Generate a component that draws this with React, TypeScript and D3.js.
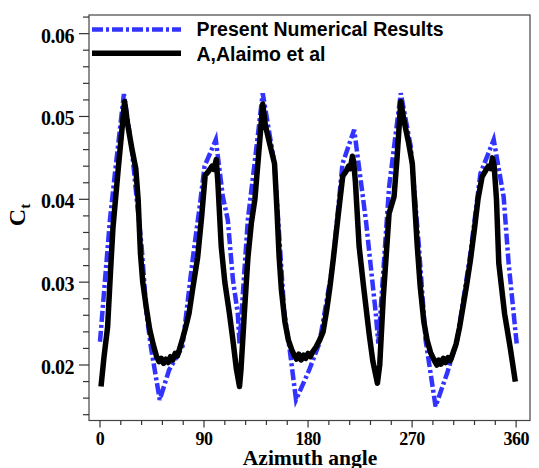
import React from "react";
import * as d3 from "d3";

const blueAngles = [0, 8.6, 12.9, 20.7, 27.3, 31.6, 36, 40.3, 44, 51.7, 59.8, 71.3, 77, 80.5, 86.2, 90.5, 100.2, 106.3, 110.6, 115, 119.2, 120.7, 127.9, 133.7, 140.8, 150.9, 159.5, 163.8, 169.6, 181, 189.7, 201.2, 209.8, 219.9, 230, 238.6, 240.8, 250.1, 260.2, 268.8, 275.9, 281.7, 290.3, 300.3, 309, 320.5, 329.1, 340.6, 349.2, 353.5, 359.3, 360.5];
const blueValues = [0.0228, 0.0375, 0.0431, 0.0527, 0.0464, 0.0403, 0.0343, 0.0262, 0.0222, 0.0158, 0.0194, 0.0222, 0.029, 0.0331, 0.0391, 0.044, 0.0472, 0.0403, 0.0375, 0.0303, 0.0262, 0.0226, 0.0375, 0.0443, 0.0528, 0.0443, 0.0262, 0.0222, 0.0158, 0.0194, 0.0226, 0.0319, 0.0443, 0.0484, 0.0375, 0.0262, 0.0226, 0.0415, 0.0528, 0.0464, 0.0343, 0.023, 0.015, 0.019, 0.023, 0.0335, 0.0431, 0.0472, 0.0403, 0.0323, 0.0242, 0.0226];

const blackAngles = [0.9, 3.5, 6.6, 9, 11.2, 16, 21.3, 24, 27.5, 31, 33, 35, 37, 40, 43, 46, 49, 51, 53, 55, 57, 59, 61, 63, 65, 67, 69, 71.5, 74, 77, 80, 84.5, 88, 91, 94, 97, 98.5, 100.6, 102, 104.9, 108, 112, 115, 118, 120.7, 122, 125, 128, 131, 134, 137, 140.8, 143, 147, 151, 153, 155, 157, 160, 163, 166, 168, 170, 172, 174, 176, 178, 180, 182, 184, 187, 190, 193, 196, 199, 202, 206, 210, 213, 215, 216.5, 218.4, 219.5, 221, 224.2, 228, 232.8, 236, 240, 242, 245, 248, 250.1, 254.4, 257, 260.2, 263, 267, 270.2, 272, 274.5, 277, 280.2, 283, 286, 289, 291.5, 293, 295, 297, 299, 301, 303, 305, 308, 311, 314, 317, 320.5, 324, 327, 330.5, 333, 336, 338, 339.5, 341, 343, 345, 350, 355, 359.3];
const blackValues = [0.0174, 0.021, 0.0246, 0.031, 0.0365, 0.044, 0.0518, 0.049, 0.0462, 0.0437, 0.04, 0.0335, 0.03, 0.027, 0.0243, 0.0225, 0.021, 0.0204, 0.0208, 0.0202, 0.0207, 0.0203, 0.021, 0.0206, 0.0214, 0.0211, 0.022, 0.0232, 0.0245, 0.0262, 0.029, 0.033, 0.038, 0.0429, 0.0434, 0.044, 0.0436, 0.0448, 0.042, 0.0343, 0.03, 0.0262, 0.023, 0.0195, 0.0174, 0.0195, 0.0265, 0.033, 0.0372, 0.04, 0.045, 0.0515, 0.049, 0.0466, 0.0443, 0.039, 0.033, 0.029, 0.0252, 0.023, 0.0218, 0.0212, 0.0207, 0.0213, 0.0206, 0.0212, 0.0208, 0.0214, 0.021, 0.0216, 0.0222, 0.023, 0.024, 0.0265, 0.0295, 0.033, 0.038, 0.0428, 0.0434, 0.044, 0.0437, 0.0452, 0.0445, 0.042, 0.0343, 0.0295, 0.0238, 0.0205, 0.0178, 0.02, 0.028, 0.034, 0.0383, 0.0403, 0.045, 0.0518, 0.0495, 0.0468, 0.0443, 0.04, 0.0343, 0.0295, 0.0252, 0.023, 0.0215, 0.0206, 0.02, 0.0206, 0.0201, 0.0208, 0.0203, 0.0209, 0.0205, 0.0213, 0.0225, 0.0245, 0.027, 0.0295, 0.0327, 0.0365, 0.04, 0.0427, 0.0433, 0.044, 0.0437, 0.045, 0.044, 0.04, 0.0323, 0.0262, 0.022, 0.018];

const xMajorTicks = [0, 90, 180, 270, 360];
const xTickLabels = ["0", "90", "180", "270", "360"];
const yMajorTicks = [0.02, 0.03, 0.04, 0.05, 0.06];
const yTickLabels = ["0.02", "0.03", "0.04", "0.05", "0.06"];
const legendLabels = ["Present Numerical Results", "A,Alaimo et al"];

const W = 539;
const H = 468;
const L = 89, R = 530, T = 15, B = 420.5;

export default function App() {
  const x = d3.scaleLinear().domain([-9.5, 372]).range([L, R]);
  const y = d3.scaleLinear().domain([0.0133, 0.06225]).range([B, T]);

  const blue = blueAngles.map((a, i) => [a, blueValues[i]] as [number, number]);
  const black = blackAngles.map((a, i) => [a, blackValues[i]] as [number, number]);
  const line = d3.line<[number, number]>().x((d) => x(d[0])).y((d) => y(d[1]));

  const xMinor = d3.range(0, 361, 18).filter((v) => !xMajorTicks.includes(v));
  const yMinor = d3.range(14, 63, 2).map((v) => v / 1000).filter((v) => !yMajorTicks.some((m) => Math.abs(m - v) < 1e-9));

  const serif = "'Liberation Serif', 'Times New Roman', serif";
  const sans = "'Liberation Sans', Arial, sans-serif";

  return (
    <svg width={W} height={H} style={{ position: "absolute", left: 0, top: 0, background: "#fff" }}>
      <rect x={0} y={0} width={W} height={H} fill="#fff" />
      {/* data */}
      <path d={line(blue) || ""} fill="none" stroke="#3333ff" strokeWidth={4.5} strokeDasharray="11,3,3,3" />
      <path d={line(black) || ""} fill="none" stroke="#000" strokeWidth={5.5} strokeLinejoin="round" />
      {/* frame */}
      <rect x={L} y={T} width={R - L} height={B - T} fill="none" stroke="#444" strokeWidth={1.2} />
      {/* x ticks */}
      {xMajorTicks.map((t, i) => (
        <g key={"xm" + t}>
          <line x1={x(t)} x2={x(t)} y1={B} y2={B + 7} stroke="#333" strokeWidth={1.2} />
          <text x={x(t)} y={444.5} textAnchor="middle" fontFamily={serif} fontWeight="bold" fontSize={18} letterSpacing={-0.5}>
            {xTickLabels[i]}
          </text>
        </g>
      ))}
      {xMinor.map((t) => (
        <line key={"xn" + t} x1={x(t)} x2={x(t)} y1={B} y2={B + 4.5} stroke="#333" strokeWidth={1.2} />
      ))}
      {/* y ticks */}
      {yMajorTicks.map((t, i) => (
        <g key={"ym" + t}>
          <line x1={L - 10} x2={L} y1={y(t)} y2={y(t)} stroke="#333" strokeWidth={1.2} />
          <text x={74} y={y(t) + 9} textAnchor="end" fontFamily={serif} fontWeight="bold" fontSize={20} letterSpacing={-0.5}>
            {yTickLabels[i]}
          </text>
        </g>
      ))}
      {yMinor.map((t) => (
        <line key={"yn" + t} x1={L - 6} x2={L} y1={y(t)} y2={y(t)} stroke="#333" strokeWidth={1.2} />
      ))}
      {/* axis titles */}
      <text x={310} y={465} textAnchor="middle" fontFamily={serif} fontWeight="bold" fontSize={21.5}>
        Azimuth angle
      </text>
      <text transform="translate(25,215) rotate(-90)" textAnchor="middle" fontFamily={serif} fontWeight="bold" fontSize={24}>
        C<tspan fontSize={15} dy={5}>t</tspan>
      </text>
      {/* legend */}
      <line x1={92} x2={181} y1={29.5} y2={29.5} stroke="#3333ff" strokeWidth={4.5} strokeDasharray="11,3,3,3" />
      <line x1={92} x2={181} y1={53.2} y2={53.2} stroke="#000" strokeWidth={5.5} />
      <text x={196.5} y={36.2} fontFamily={sans} fontWeight="bold" fontSize={19.5}>
        {legendLabels[0]}
      </text>
      <text x={196.5} y={61.4} fontFamily={sans} fontWeight="bold" fontSize={19.5}>
        {legendLabels[1]}
      </text>
    </svg>
  );
}
